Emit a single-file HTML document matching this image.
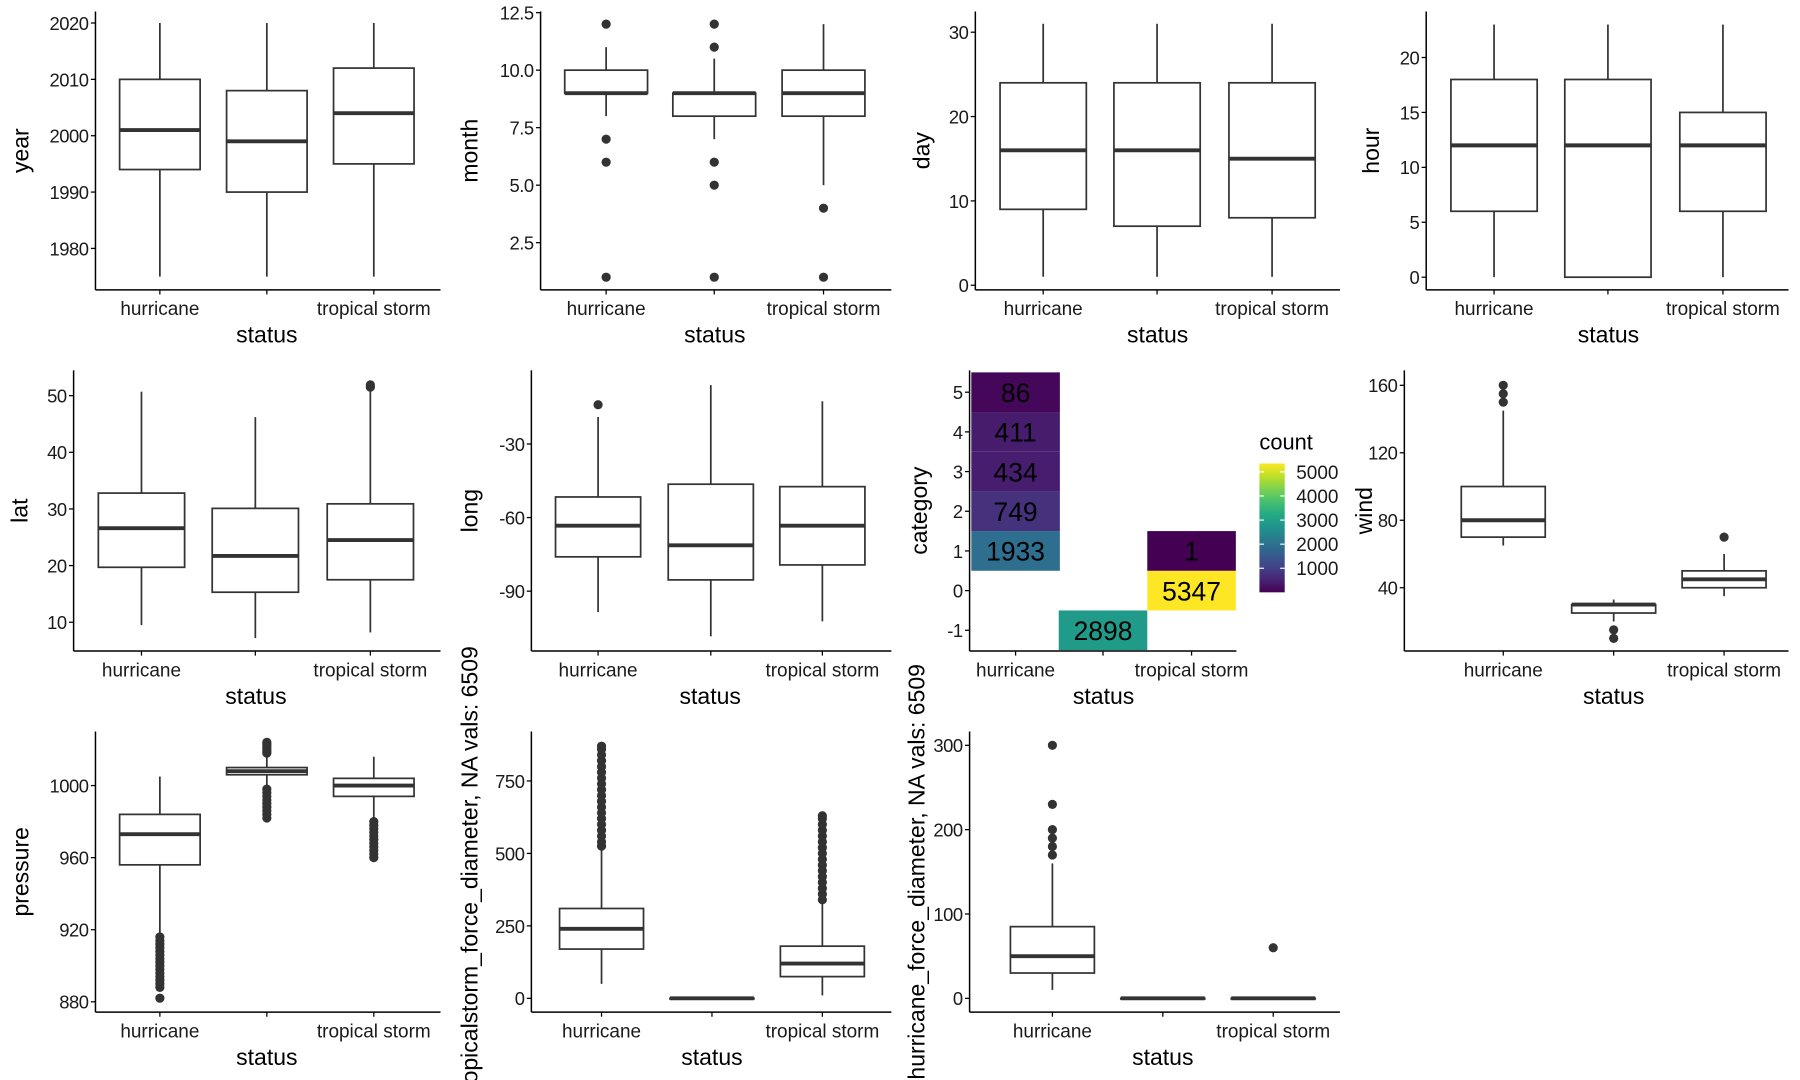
<!DOCTYPE html>
<html><head><meta charset="utf-8">
<style>
html,body{margin:0;padding:0;background:#fff;}
svg{display:block;}
text{font-family:"Liberation Sans",sans-serif;}
.tick{letter-spacing:-0.4px;}
</style></head>
<body>
<svg id="chart" width="1800" height="1080" viewBox="0 0 1565 939" preserveAspectRatio="none" xmlns="http://www.w3.org/2000/svg"></svg>
<script>
// ---------- data ----------
const categories = ["hurricane", "tropical depression", "tropical storm"];
const categoryLabels = ["hurricane", "", "tropical storm"];

// box stats per category: [lowWhisker, q1, median, q3, highWhisker]
const yearBoxes = [[1975,1994,2001,2010,2020],[1975,1990,1999,2008,2020],[1975,1995,2004,2012,2020]];
const yearOutliers = [[],[],[]];
const yearTicks = [1980,1990,2000,2010,2020];

const monthBoxes = [[8,9,9,10,11],[7,8,9,9,10.5],[5,8,9,10,12]];
const monthOutliers = [[12,7,6,1],[12,11,6,5,1],[4,1]];
const monthTicks = [2.5,5.0,7.5,10.0,12.5];

const dayBoxes = [[1,9,16,24,31],[1,7,16,24,31],[1,8,15,24,31]];
const dayOutliers = [[],[],[]];
const dayTicks = [0,10,20,30];

const hourBoxes = [[0,6,12,18,23],[0,0,12,18,23],[0,6,12,15,23]];
const hourOutliers = [[],[],[]];
const hourTicks = [0,5,10,15,20];

const latBoxes = [[9.5,19.7,26.6,32.8,50.7],[7.2,15.3,21.7,30.1,46.2],[8.2,17.5,24.5,30.9,51]];
const latOutliers = [[],[],[51.5,51.9]];
const latTicks = [10,20,30,40,50];

const longBoxes = [[-98.5,-76,-63.3,-51.6,-19],[-108.4,-85.4,-71.3,-46.4,-6],[-102.3,-79.3,-63.3,-47.4,-12.6]];
const longOutliers = [[-14],[],[]];
const longTicks = [-90,-60,-30];

const windBoxes = [[65,70,80,100,145],[20,25,30,30,33],[35,40,45,50,60]];
const windOutliers = [[150,155,160],[15,10],[70]];
const windTicks = [40,80,120,160];

const pressureBoxes = [[917,956,973,984,1005],[1000,1006,1008,1010,1016],[981,994,1000,1004,1016]];
const pressureOutliers = [[882,888,890,892,894,896,898,900,902,904,906,908,910,912,914,916],[982,984,986,988,990,992,994,996,998,1018,1019,1020,1021,1022,1023,1024],[960,962,964,966,968,970,972,974,976,978,980]];
const pressureTicks = [880,920,960,1000];

const tsBoxes = [[50,170,240,310,520],[0,0,0,0,0],[10,75,120,180,330]];
const tsOutliers = [[525,540,560,580,600,620,640,660,680,700,720,740,760,780,800,820,840,860,870],[],[340,360,380,400,420,440,460,480,500,520,540,560,580,600,620,630]];
const tsTicks = [0,250,500,750];

const huBoxes = [[10,30,50,85,160],[0,0,0,0,0],[0,0,0,0,0]];
const huOutliers = [[170,180,190,200,230,300],[],[60]];
const huTicks = [0,100,200,300];

// heatmap
const heatStatus = [0,0,0,0,0,1,2,2];
const heatCategory = [1,2,3,4,5,-1,0,1];
const heatCounts = [1933,749,434,411,86,2898,5347,1];
const heatTicks = [-1,0,1,2,3,4,5];
const legendTicks = [1000,2000,3000,4000,5000];

// ---------- helpers ----------
const NS = "http://www.w3.org/2000/svg";
const svg = document.getElementById("chart");
function el(tag, attrs, parent){
  const e = document.createElementNS(NS, tag);
  for (const k in attrs) e.setAttribute(k, attrs[k]);
  (parent||svg).appendChild(e);
  return e;
}
function linScale(d0,d1,r0,r1){return v=>r0+(v-d0)*(r1-r0)/(d1-d0);}

function axes(g, p, yScale, ticks, fmt, cx){
  const ya = el("line",{x1:p.ax,y1:p.top,x2:p.ax,y2:p.bottom,stroke:"#000","stroke-width":1.3},g);
  
  
  const xa = el("line",{x1:p.ax,y1:p.bottom,x2:p.right,y2:p.bottom,stroke:"#000","stroke-width":1.3},g);
  
  
  ticks.forEach(t=>{
    const y = yScale(t);
    el("line",{x1:p.ax-4,y1:y,x2:p.ax,y2:y,stroke:"#000","stroke-width":1.1},g);
    const tx = el("text",{x:p.ax-6,y:y+6,"text-anchor":"end","font-size":16,"class":"tick",fill:"#1a1a1a"},g);
    tx.textContent = fmt ? fmt(t) : t;
    
    
  });
  cx.forEach((x,i)=>{
    el("line",{x1:x,y1:p.bottom,x2:x,y2:p.bottom+4,stroke:"#000","stroke-width":1.1},g);
    if (categoryLabels[i]){
      const tx = el("text",{x:x,y:p.bottom+22,"text-anchor":"middle","font-size":16.5,fill:"#1a1a1a"},g);
      tx.textContent = categoryLabels[i];
      
      
    }
  });
  const xt = el("text",{x:(cx[0]+cx[2])/2,y:p.bottom+46,"text-anchor":"middle","font-size":20,fill:"#000"},g);
  xt.textContent = "status";
  
  
  const my = (p.top+p.bottom)/2;
  const yt = el("text",{x:p.titleX,y:my,"text-anchor":"middle","font-size":20,fill:"#000",transform:`rotate(-90 ${p.titleX} ${my})`},g);
  yt.textContent = p.title;
  
  
}

function boxPanel(p, boxes, outliers, ticks, fmt){
  const g = el("g",{});
  
  
  const yScale = linScale(p.d0,p.d1,p.r0,p.r1);
  axes(g,p,yScale,ticks,fmt,p.cx);
  const hw = p.bw/2;
  boxes.forEach((b,i)=>{
    const x = p.cx[i];
    const bg = el("g",{},g);
    
    
    el("line",{x1:x,y1:yScale(b[3]),x2:x,y2:yScale(b[4]),stroke:"#333","stroke-width":1.5},bg);
    el("line",{x1:x,y1:yScale(b[1]),x2:x,y2:yScale(b[0]),stroke:"#333","stroke-width":1.5},bg);
    const y3 = yScale(b[3]), y1 = yScale(b[1]);
    el("rect",{x:x-hw,y:y3,width:p.bw,height:Math.max(y1-y3,0.5),fill:"#fff",stroke:"#333","stroke-width":1.5},bg);
    el("line",{x1:x-hw,y1:yScale(b[2]),x2:x+hw,y2:yScale(b[2]),stroke:"#333","stroke-width":3.4},bg);
    outliers[i].forEach(v=>{
      const c = el("circle",{cx:x,cy:yScale(v),r:4,fill:"#333"},bg);
      
      
    });
  });
}

// ---------- panels ----------
const row1 = {top:10,bottom:252};
const row2 = {top:322,bottom:566};
const row3 = {top:636,bottom:880};

boxPanel(Object.assign({name:"year-panel",title:"year",titleX:25,ax:83,right:383,cx:[139,232,325],bw:70,d0:2020,d1:1980,r0:20,r1:216},row1), yearBoxes, yearOutliers, yearTicks);
boxPanel(Object.assign({name:"month-panel",title:"month",titleX:415,ax:470,right:775,cx:[527,621,716],bw:72,d0:12.5,d1:2.5,r0:11,r1:211},row1), monthBoxes, monthOutliers, monthTicks, t=>t.toFixed(1));
boxPanel(Object.assign({name:"day-panel",title:"day",titleX:808,ax:848,right:1165,cx:[907,1006,1106],bw:75,d0:30,d1:0,r0:28,r1:248},row1), dayBoxes, dayOutliers, dayTicks);
boxPanel(Object.assign({name:"hour-panel",title:"hour",titleX:1199,ax:1240,right:1555,cx:[1299,1398,1498],bw:75,d0:20,d1:0,r0:50,r1:241},row1), hourBoxes, hourOutliers, hourTicks);

boxPanel(Object.assign({name:"lat-panel",title:"lat",titleX:24,ax:64,right:383,cx:[123,222,322],bw:75,d0:50,d1:10,r0:344,r1:541},row2), latBoxes, latOutliers, latTicks);
boxPanel(Object.assign({name:"long-panel",title:"long",titleX:415,ax:462,right:775,cx:[520,618,715],bw:74,d0:-30,d1:-90,r0:386,r1:514},row2), longBoxes, longOutliers, longTicks);
boxPanel(Object.assign({name:"wind-panel",title:"wind",titleX:1193,ax:1221,right:1555,cx:[1307,1403,1499],bw:73,d0:160,d1:40,r0:335,r1:511},row2), windBoxes, windOutliers, windTicks);

boxPanel(Object.assign({name:"pressure-panel",title:"pressure",titleX:25,ax:83,right:383,cx:[139,232,325],bw:70,d0:1000,d1:880,r0:683,r1:871},row3), pressureBoxes, pressureOutliers, pressureTicks);
boxPanel(Object.assign({name:"ts-diameter-panel",title:"tropicalstorm_force_diameter, NA vals: 6509",titleX:415,ax:462,right:775,cx:[523,619,715],bw:73,d0:750,d1:0,r0:679,r1:868},row3), tsBoxes, tsOutliers, tsTicks);
boxPanel(Object.assign({name:"hu-diameter-panel",title:"hurricane_force_diameter, NA vals: 6509",titleX:804,ax:843,right:1165,cx:[915,1011,1107],bw:73,d0:300,d1:0,r0:648,r1:868},row3), huBoxes, huOutliers, huTicks);

// ---------- heatmap ----------
const viridis = ["#440154","#482475","#414487","#355f8d","#2a788e","#21918c","#22a884","#44bf70","#7ad151","#bddf26","#fde725"];
function hex2rgb(h){return [1,3,5].map(i=>parseInt(h.substr(i,2),16));}
function vcol(t){
  t=Math.max(0,Math.min(1,t));
  const s=t*(viridis.length-1), i=Math.min(Math.floor(s),viridis.length-2), f=s-i;
  const a=hex2rgb(viridis[i]), b=hex2rgb(viridis[i+1]);
  return "rgb("+a.map((v,k)=>Math.round(v+(b[k]-v)*f)).join(",")+")";
}
(function(){
  const p = Object.assign({title:"category",titleX:806,ax:843,right:1075},row2);
  const g = el("g",{});
  
  
  const cx = [883,959,1036];
  const yScale = linScale(5,-1,341,548);
  const tileH = yScale(0)-yScale(1), tileW = 77;
  const cMin = 1, cMax = 5347;
  heatCounts.forEach((c,i)=>{
    const x = cx[heatStatus[i]], y = yScale(heatCategory[i]);
    const r = el("rect",{x:x-tileW/2,y:y-tileH/2,width:tileW,height:tileH,fill:vcol((c-cMin)/(cMax-cMin))},g);
    
    
    const t = el("text",{x:x,y:y+8.5,"text-anchor":"middle","font-size":23,fill:"#000"},g);
    t.textContent = c;
    
    
  });
  axes(g,p,yScale,heatTicks,null,cx);
  const lg = el("g",{},g);
  
  
  const lt = el("text",{x:1095,y:391,"font-size":19,fill:"#000"},lg);
  lt.textContent = "count";
  
  
  const defs = el("defs",{},lg);
  const grad = el("linearGradient",{id:"vg",x1:0,y1:1,x2:0,y2:0},defs);
  viridis.forEach((c,i)=>el("stop",{offset:(i/(viridis.length-1)),"stop-color":c},grad));
  const barTop=403, barBot=515, bx=1095, bwid=22;
  const cb = el("rect",{x:bx,y:barTop,width:bwid,height:barBot-barTop,fill:"url(#vg)"},lg);
  
  
  const ls = linScale(cMin,cMax,barBot,barTop);
  legendTicks.forEach(t=>{
    const y = ls(t);
    el("line",{x1:bx,y1:y,x2:bx+4,y2:y,stroke:"#fff","stroke-width":1},lg);
    el("line",{x1:bx+bwid-4,y1:y,x2:bx+bwid,y2:y,stroke:"#fff","stroke-width":1},lg);
    const tx = el("text",{x:bx+32,y:y+6,"font-size":16.5,fill:"#1a1a1a"},lg);
    tx.textContent = t;
    
    
  });
})();
</script>
</body></html>
